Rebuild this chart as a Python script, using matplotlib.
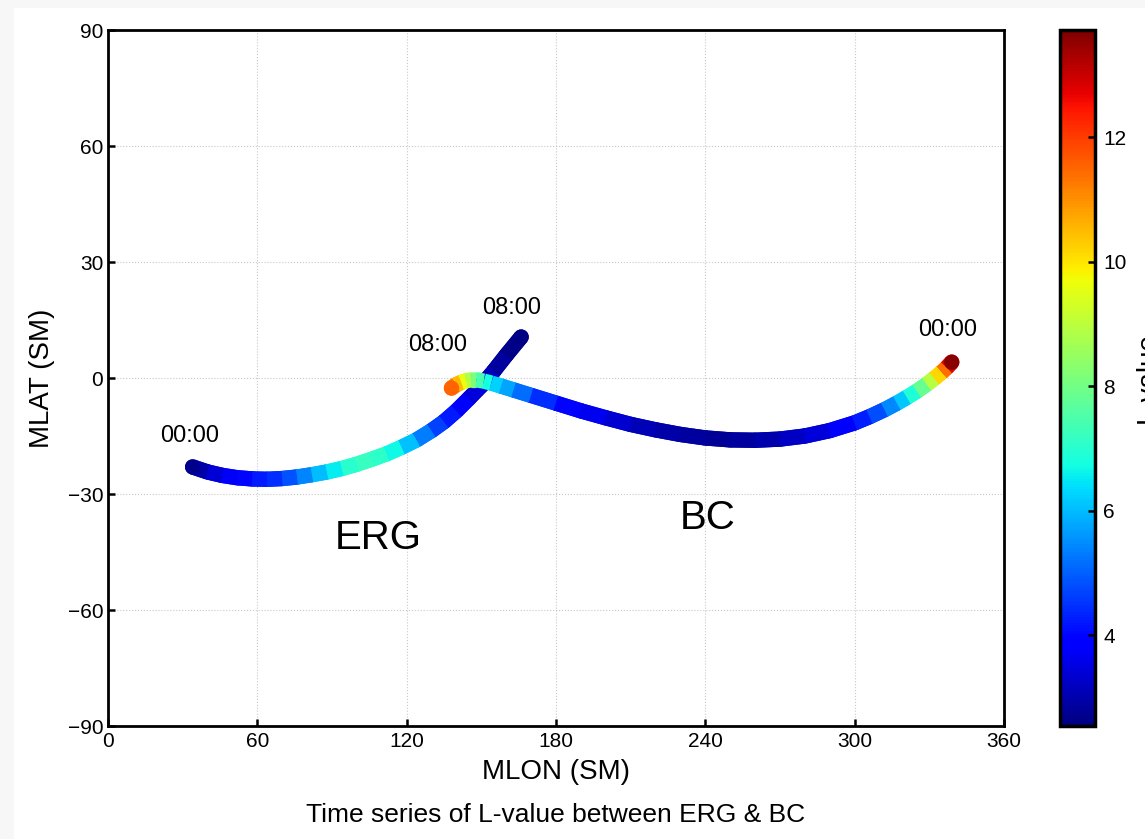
# L-value tracks of ERG and BC in SM coordinates
import numpy as np
import matplotlib
matplotlib.use('Agg')
import matplotlib.pyplot as plt
from matplotlib.collections import LineCollection
from matplotlib.patches import Rectangle

plt.rcParams['font.family'] = ['Liberation Sans', 'DejaVu Sans']

# ERG track
erg_lon = [34, 40, 46, 52, 58, 64, 70, 76, 82, 88, 94, 100, 106, 112, 118,
           124, 130, 135, 140, 145, 150, 155, 160, 166]
erg_lat = [-23.0, -24.3, -25.2, -25.8, -26.1, -26.2, -26.0, -25.6, -25.0, -24.3,
           -23.4, -22.3, -21.0, -19.6, -17.9, -16.0, -13.6, -11.3, -8.5, -5.3,
           -2.0, 1.8, 5.9, 10.6]
erg_L = [2.7, 3.2, 3.6, 3.9, 4.1, 4.3, 4.6, 5.1, 5.7, 6.3, 6.8, 7.2, 7.2, 6.9,
         6.4, 5.7, 4.9, 4.4, 4.0, 3.6, 3.3, 3.0, 2.7, 2.6]

# BC track
bc_lon = [138, 140, 142, 144, 146, 148, 151, 154, 158, 163, 170, 180, 190, 200,
          210, 220, 230, 240, 250, 260, 270, 280, 290, 300, 306, 312, 317, 321,
          325, 329, 332, 335, 337, 339]
bc_lat = [-2.6, -1.7, -1.1, -0.7, -0.5, -0.5, -0.8, -1.3, -2.1, -3.1, -4.5, -6.5,
          -8.5, -10.3, -12.0, -13.4, -14.6, -15.5, -16.0, -16.1, -15.8, -15.0,
          -13.6, -11.6, -10.0, -8.2, -6.5, -5.0, -3.4, -1.6, -0.1, 1.5, 2.7, 4.1]
bc_L = [11.5, 11.0, 10.0, 9.3, 8.5, 7.8, 7.0, 6.5, 6.0, 5.5, 4.8, 4.1, 3.8, 3.5,
        3.2, 3.0, 2.9, 2.8, 2.8, 2.9, 3.1, 3.3, 3.6, 4.0, 4.5, 5.1, 5.8, 6.5,
        7.3, 8.4, 9.5, 10.8, 12.0, 13.6]

L_min, L_max = 2.54, 13.72

# time labels at the track ends
label_lon = [34, 138, 166, 339]
label_lat = [-23.0, -2.6, 10.6, 4.1]
label_txt = ['00:00', '08:00', '08:00', '00:00']
label_off = [(-2, 14), (-10, 23), (-7, 13), (-3, 15)]  # points


def track(ax, lon, lat, L, norm):
    pts = np.column_stack([lon, lat]).reshape(-1, 1, 2)
    segs = np.concatenate([pts[:-1], pts[1:]], axis=1)
    mid = (np.array(L[:-1]) + np.array(L[1:])) / 2
    # round-capped layer underneath fills the gaps at the bends
    for cap, z in [('round', 2), ('butt', 2.5)]:
        lc = LineCollection(segs, cmap='jet', norm=norm, linewidths=11,
                            capstyle=cap, zorder=z)
        lc.set_array(mid)
        ax.add_collection(lc)
    # round end caps in the right colour
    ax.scatter([lon[0], lon[-1]], [lat[0], lat[-1]], c=[L[0], L[-1]],
               cmap='jet', norm=norm, s=121, linewidths=0, zorder=3)
    return lc


fig = plt.figure(figsize=[11.45, 8.39], dpi=100, facecolor='#f7f7f7')
fig.patches.append(Rectangle((14 / 1145, 0), 1, 1 - 8 / 839, transform=fig.transFigure,
                             facecolor='white', edgecolor='none', zorder=-1))

ax = fig.add_axes([108 / 1145, 1 - 726 / 839, 896 / 1145, 696 / 839])
norm = plt.Normalize(L_min, L_max)

lc = track(ax, erg_lon, erg_lat, erg_L, norm)
track(ax, bc_lon, bc_lat, bc_L, norm)

for lon, lat, txt, off in zip(label_lon, label_lat, label_txt, label_off):
    ax.annotate(txt, (lon, lat), xytext=off, textcoords='offset points',
                ha='center', va='bottom', fontsize=17)

ax.text(108.5, -41.4, 'ERG', ha='center', va='center', fontsize=29)
ax.text(241, -36.2, 'BC', ha='center', va='center', fontsize=29)

ax.set_xlim(0, 360)
ax.set_ylim(-90, 90)
ax.set_xticks(np.arange(0, 361, 60))
ax.set_yticks(np.arange(-90, 91, 30))
ax.tick_params(direction='in', labelsize=15, length=5, width=1.8)
ax.tick_params(axis='x', pad=4)
ax.grid(True, linestyle=':', color='#c8c8c8', linewidth=0.8)
for s in ax.spines.values():
    s.set_linewidth(2)
ax.set_xlabel('MLON (SM)', fontsize=20, labelpad=6)
ax.set_ylabel('MLAT (SM)', fontsize=20, labelpad=9)

cax = fig.add_axes([1060 / 1145, 1 - 726 / 839, 35 / 1145, 696 / 839])
cb = fig.colorbar(lc, cax=cax)
cb.outline.set_linewidth(2.5)
cb.set_ticks([4, 6, 8, 10, 12])
cb.ax.tick_params(direction='in', labelsize=15, length=5, width=1.8, pad=6)
cb.set_label('L-value', fontsize=20, labelpad=6)

fig.text(556 / 1145, 1 - 815 / 839, 'Time series of L-value between ERG & BC',
         ha='center', va='center', fontsize=19)

plt.savefig('out.png', dpi=100)
